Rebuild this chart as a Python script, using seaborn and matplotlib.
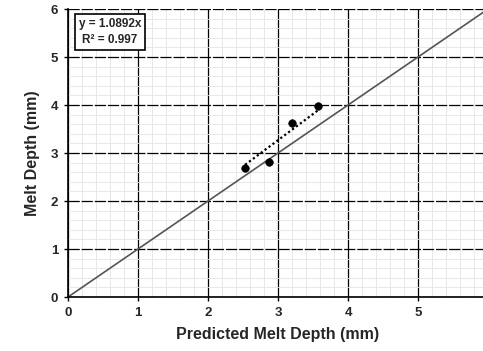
import numpy as np
import pandas as pd
import matplotlib.pyplot as plt
import seaborn as sns
from matplotlib.ticker import MultipleLocator

# data
predicted = [2.53, 2.87, 3.20, 3.57]
measured = [2.69, 2.81, 3.63, 3.98]
slope = 1.0892
r2 = 0.997
one_to_one = [0, 6]

sns.set_style('white')
plt.rcParams['font.family'] = ['Liberation Sans', 'DejaVu Sans']

fig = plt.figure(figsize=(4.83, 3.51), dpi=100, facecolor='white')
ax = fig.add_axes([0.1408, 0.1538, 0.8696, 0.8205])

df = pd.DataFrame({'x': predicted, 'y': measured})
fit = pd.DataFrame({'x': [min(predicted), max(predicted)]})
fit['y'] = slope * fit['x']
ref = pd.DataFrame({'x': one_to_one, 'y': one_to_one})

ax.set_xlim(0, 6)
ax.set_ylim(0, 6)
ax.xaxis.set_major_locator(MultipleLocator(1))
ax.yaxis.set_major_locator(MultipleLocator(1))
ax.xaxis.set_minor_locator(MultipleLocator(0.2))
ax.yaxis.set_minor_locator(MultipleLocator(0.2))

# gridlines: light minor, solid vertical major, dashed horizontal major
ax.grid(which='minor', color='#e4e4e4', linewidth=0.6)
ax.grid(which='major', axis='x', color='black', linewidth=0.9)
ax.grid(which='major', axis='y', color='black', linewidth=0.9, linestyle=(0, (9, 1.5)))
ax.set_axisbelow(True)

sns.lineplot(data=ref, x='x', y='y', color='#555555', linewidth=1.2, ax=ax)
sns.lineplot(data=fit, x='x', y='y', color='black', linewidth=1.6, linestyle=(0, (1, 1.2)), ax=ax)
sns.scatterplot(data=df, x='x', y='y', color='black', s=30, edgecolor='black', zorder=5, ax=ax)

ax.text(0.6, 5.52, f'y = {slope}x\nR² = {r2}', fontsize=8.5, fontweight='bold',
        ha='center', va='center', linespacing=1.35,
        bbox=dict(boxstyle='square,pad=0.35', facecolor='white', edgecolor='black', linewidth=1.2),
        zorder=6)

for side in ['top', 'right']:
    ax.spines[side].set_visible(False)
for side in ['left', 'bottom']:
    ax.spines[side].set_color('black')
    ax.spines[side].set_linewidth(1.2)

ax.tick_params(axis='both', which='major', length=3, width=1, direction='out',
               labelsize=9.5, bottom=True, left=True, color='black', pad=4)
ax.tick_params(axis='both', which='minor', length=0)
for lab in ax.get_xticklabels() + ax.get_yticklabels():
    lab.set_fontweight('bold')

ax.set_xlabel('Predicted Melt Depth (mm)', fontsize=11.5, fontweight='bold', labelpad=6)
ax.set_ylabel('Melt Depth (mm)', fontsize=11.5, fontweight='bold', labelpad=8)

plt.savefig('out.png', dpi=100)
